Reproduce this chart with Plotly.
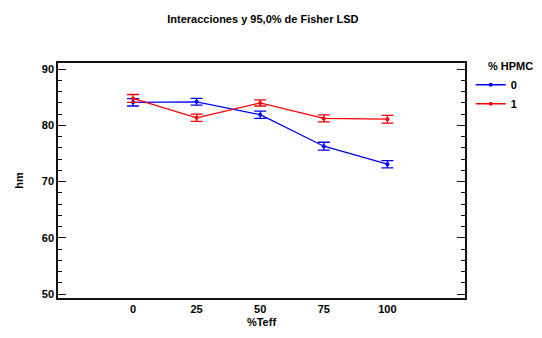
import plotly.graph_objects as go

# Interaction means of hm by %Teff for each %HPMC level, with 95% Fisher LSD intervals
teff = [0, 25, 50, 75, 100]
tick_labels = ["0", "25", "50", "75", "100"]
y_ticks = [50, 60, 70, 80, 90]

hpmc0_mean = [84.1, 84.2, 81.9, 76.3, 73.1]
hpmc0_half = [0.65, 0.6, 0.65, 0.7, 0.65]

hpmc1_mean = [84.8, 81.35, 84.0, 81.25, 81.1]
hpmc1_half = [0.7, 0.65, 0.55, 0.62, 0.7]

FONT = "Liberation Sans, Arial, sans-serif"

fig = go.Figure()

for name, mean, half, color in [
    ("0", hpmc0_mean, hpmc0_half, "#0000ff"),
    ("1", hpmc1_mean, hpmc1_half, "#ff0000"),
]:
    fig.add_trace(go.Scatter(
        x=teff, y=mean, name=f"<b>{name}</b>", mode="lines+markers",
        line=dict(color=color, width=1.3),
        marker=dict(color=color, size=4),
        error_y=dict(type="data", array=half, visible=True,
                     color=color, thickness=1.3, width=6),
    ))

fig.update_layout(
    width=542, height=338,
    margin=dict(l=58, r=77, t=63, b=40, autoexpand=False),
    paper_bgcolor="white", plot_bgcolor="white",
    font=dict(family=FONT, size=11, color="black"),
    title=dict(text="<b>Interacciones y 95,0% de Fisher LSD</b>",
               x=0.485, xanchor="center", y=0.955, yanchor="top",
               font=dict(family=FONT, size=11)),
    legend=dict(
        title=dict(text="<b>     % HPMC</b>", font=dict(family=FONT, size=11)),
        x=1.014, xanchor="left", y=1.03, yanchor="top",
        font=dict(family=FONT, size=11), itemwidth=30,
        tracegroupgap=0, bgcolor="rgba(0,0,0,0)",
    ),
)

fig.update_xaxes(
    range=[-29.5, 130.5], tickvals=teff,
    ticktext=[f"<b>{t}</b>" for t in tick_labels],
    showgrid=False, zeroline=False, ticks="",
    showline=True, linecolor="#111", linewidth=1.5, mirror=True,
    tickfont=dict(family=FONT, size=11),
    title=dict(text="<b>%Teff</b>", standoff=4, font=dict(family=FONT, size=11)),
)

fig.update_yaxes(
    range=[49.3, 91.1], tickvals=y_ticks,
    ticktext=[f"<b>{v}</b>" for v in y_ticks],
    showgrid=False, zeroline=False,
    ticks="inside", ticklen=8, tickwidth=1, tickcolor="#111",
    minor=dict(ticks="inside", ticklen=4, tickwidth=1, tickcolor="#111", dtick=2, showgrid=False),
    showline=True, linecolor="#111", linewidth=1.5, mirror="ticks",
    tickfont=dict(family=FONT, size=11),
    title=dict(text="<b>hm</b>", standoff=16, font=dict(family=FONT, size=11)),
)

fig.write_html("out.html")
